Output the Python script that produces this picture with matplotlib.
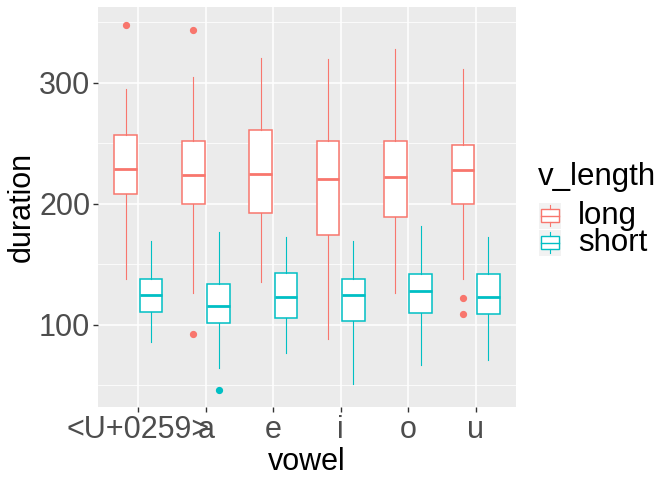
import matplotlib
matplotlib.use("Agg")
import matplotlib.pyplot as plt
from matplotlib.patches import Rectangle

plt.rcParams['font.family'] = ['Liberation Sans', 'DejaVu Sans']

vowels = ["<U+0259>", "a", "e", "i", "o", "u"]
groups = ["long", "short"]
colors = {"long": "#F8766D", "short": "#00BFC4"}

# per vowel: whislo, q1, med, q3, whishi
long_whislo = [137.8, 126.1, 135.8, 88.7, 126.1, 137.7]
long_q1 = [208.0, 199.9, 192.2, 174.0, 188.9, 199.6]
long_med = [228.9, 224.1, 224.9, 220.5, 222.4, 228.2]
long_q3 = [256.8, 252.4, 261.5, 252.4, 252.4, 249.1]
long_whishi = [294.8, 305.2, 320.4, 319.5, 327.8, 311.3]
long_fliers = [[347.7], [344.0, 92.3], [], [], [], [122.3, 109.1]]

short_whislo = [86.3, 64.8, 77.2, 51.0, 66.5, 71.4]
short_q1 = [110.5, 101.4, 105.5, 103.0, 109.7, 108.9]
short_med = [125.0, 116.0, 123.4, 125.0, 128.0, 123.4]
short_q3 = [137.7, 133.6, 142.7, 137.7, 141.8, 141.8]
short_whishi = [169.3, 176.8, 172.6, 169.3, 181.4, 172.6]
short_fliers = [[], [46.1], [], [], [], []]

y_ticks = [100, 200, 300]
y_minor = [50, 150, 250, 350]

W, H = 672, 480
fig = plt.figure(figsize=(W / 100, H / 100), dpi=100)
px_l, px_r, px_t, px_b = 98, 516, 7, 407
ax = fig.add_axes([px_l / W, 1 - px_b / H, (px_r - px_l) / W, (px_b - px_t) / H])
ax.set_facecolor("#EBEBEB")
for s in ax.spines.values():
    s.set_visible(False)

data = {
    "long": (long_whislo, long_q1, long_med, long_q3, long_whishi, long_fliers),
    "short": (short_whislo, short_q1, short_med, short_q3, short_whishi, short_fliers),
}
offsets = {"long": -0.1875, "short": 0.1875}
bw = 0.3375

for g in groups:
    wl, q1, md, q3, wh, fl = data[g]
    stats = []
    for i in range(len(vowels)):
        stats.append(dict(whislo=wl[i], q1=q1[i], med=md[i], q3=q3[i],
                          whishi=wh[i], fliers=fl[i]))
    pos = [i + 1 + offsets[g] for i in range(len(vowels))]
    c = colors[g]
    ax.bxp(stats, positions=pos, widths=bw, showcaps=False, patch_artist=True,
           boxprops=dict(facecolor="white", edgecolor=c, linewidth=1.1),
           whiskerprops=dict(color=c, linewidth=0.8),
           medianprops=dict(color=c, linewidth=2.0),
           flierprops=dict(marker="o", markerfacecolor=c, markeredgecolor=c,
                           markersize=4.2, linestyle="none"),
           zorder=3)

ax.set_xlim(0.4, 6.6)
ax.set_ylim(32.2, 362.8)
ax.set_xticks(range(1, len(vowels) + 1))
ax.set_xticklabels(vowels)
ax.set_yticks(y_ticks)
ax.set_yticks(y_minor, minor=True)
ax.grid(True, which="major", color="white", linewidth=1.1, zorder=0)
ax.grid(True, which="minor", axis="y", color="white", linewidth=0.55, zorder=0)
ax.set_axisbelow(True)
ax.tick_params(axis="both", which="major", labelsize=22, colors="#333333",
               labelcolor="#4D4D4D", length=3.5, width=1.0, pad=2)
ax.tick_params(axis="y", which="minor", length=0)
ax.set_xlabel("vowel", fontsize=22, color="black", labelpad=2)
ax.set_ylabel("duration", fontsize=22, color="black", labelpad=2)

# legend
def fx(x):
    return x / W

def fy(y):
    return 1 - y / H

fig.text(fx(538), fy(185), "v_length", fontsize=22.5, color="black", ha="left", va="baseline")
key_tops = [203, 230]
for g, kt in zip(groups, key_tops):
    kax = fig.add_axes([fx(539), fy(kt + 25.5), fx(22), 25.5 / H])
    kax.set_facecolor("#F2F2F2")
    for s in kax.spines.values():
        s.set_visible(False)
    kax.set_xticks([]); kax.set_yticks([])
    kax.set_xlim(0, 1); kax.set_ylim(0, 1)
    c = colors[g]
    kax.add_patch(Rectangle((0.1, 0.24), 0.8, 0.52, facecolor="white", edgecolor=c, linewidth=1.0))
    kax.plot([0.1, 0.9], [0.5, 0.5], color=c, linewidth=1.0)
    kax.plot([0.5, 0.5], [0.76, 0.92], color=c, linewidth=0.8)
    kax.plot([0.5, 0.5], [0.08, 0.24], color=c, linewidth=0.8)
    fig.text(fx(578), fy(kt + 21), g, fontsize=22.5, color="black", ha="left", va="baseline")

fig.savefig("out.png", dpi=100)
